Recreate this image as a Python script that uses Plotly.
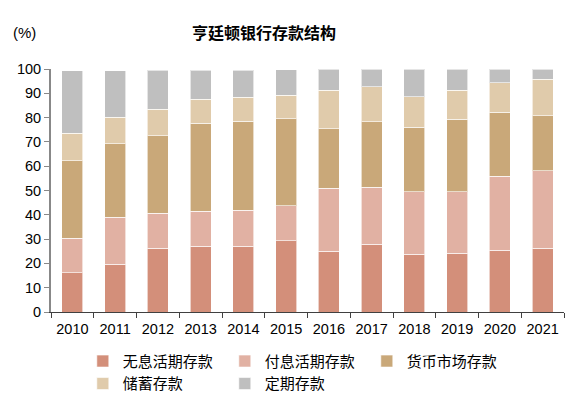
import plotly.graph_objects as go

years = ["2010", "2011", "2012", "2013", "2014", "2015", "2016", "2017", "2018", "2019", "2020", "2021"]
noninterest_dd = [16.2, 19.7, 26.3, 27.1, 27.1, 29.4, 25.0, 27.9, 23.8, 24.2, 25.4, 26.3]
interest_dd = [14.1, 19.2, 14.3, 14.3, 14.7, 14.3, 25.9, 23.4, 25.7, 25.3, 30.4, 31.9]
money_market = [31.9, 30.3, 31.9, 36.2, 36.7, 35.8, 24.5, 27.0, 26.6, 29.9, 26.5, 22.5]
savings = [11.4, 11.0, 10.9, 10.0, 9.9, 9.8, 15.8, 14.5, 12.5, 11.8, 12.1, 15.0]
time_dep = [25.6, 19.0, 16.0, 11.8, 11.0, 10.4, 8.8, 7.2, 11.4, 8.8, 5.6, 4.3]

series = [
    ("无息活期存款", noninterest_dd, "#D38F7A"),
    ("付息活期存款", interest_dd, "#E1B1A3"),
    ("货币市场存款", money_market, "#C9A879"),
    ("储蓄存款", savings, "#E0CBAB"),
    ("定期存款", time_dep, "#BFBFBF"),
]

fig = go.Figure()
for name, vals, color in series:
    fig.add_trace(go.Bar(
        x=years, y=vals, name=name,
        marker=dict(color=color, line=dict(color="rgba(255,255,255,0.6)", width=1)),
    ))

font_cjk = "Liberation Sans, Arial, Noto Sans CJK SC, sans-serif"

fig.update_layout(
    barmode="stack",
    bargap=0.51,
    width=581, height=397,
    margin=dict(l=51, r=17, t=69, b=85, autoexpand=False),
    plot_bgcolor="white", paper_bgcolor="white",
    font=dict(family=font_cjk, size=15, color="black"),
    title=dict(text="<b>亨廷顿银行存款结构</b>", x=264/581, xanchor="center",
               y=1 - 33/397, yanchor="middle",
               font=dict(family="Noto Sans CJK SC, sans-serif", size=16, color="black")),
    legend=dict(orientation="h", x=0.062, xanchor="left", y=-0.135, yanchor="top",
                entrywidth=97, entrywidthmode="pixels",
                font=dict(family="Noto Sans CJK SC, sans-serif", size=15),
                itemwidth=30, tracegroupgap=0, traceorder="normal"),
    annotations=[dict(text="(%)", xref="paper", yref="paper",
                      x=-51/513 + 11/513, xanchor="left",
                      y=1 + (69 - 33) / 242, yanchor="middle",
                      showarrow=False, font=dict(size=15))],
)

fig.update_xaxes(
    showline=True, linecolor="#404040", linewidth=1,
    ticks="outside", ticklen=5, tickcolor="#404040", tickson="boundaries",
    tickfont=dict(size=14.5), showgrid=False, ticklabelstandoff=4,
)
fig.update_yaxes(
    range=[0, 100], dtick=10, showline=True, linecolor="#888888", linewidth=2,
    ticks="outside", ticklen=5, tickcolor="#888888", showgrid=False,
    tickfont=dict(size=14.5), zeroline=False,
)

fig.write_html("out.html", post_script="document.body.style.margin='0';",
               config={"displayModeBar": False})
